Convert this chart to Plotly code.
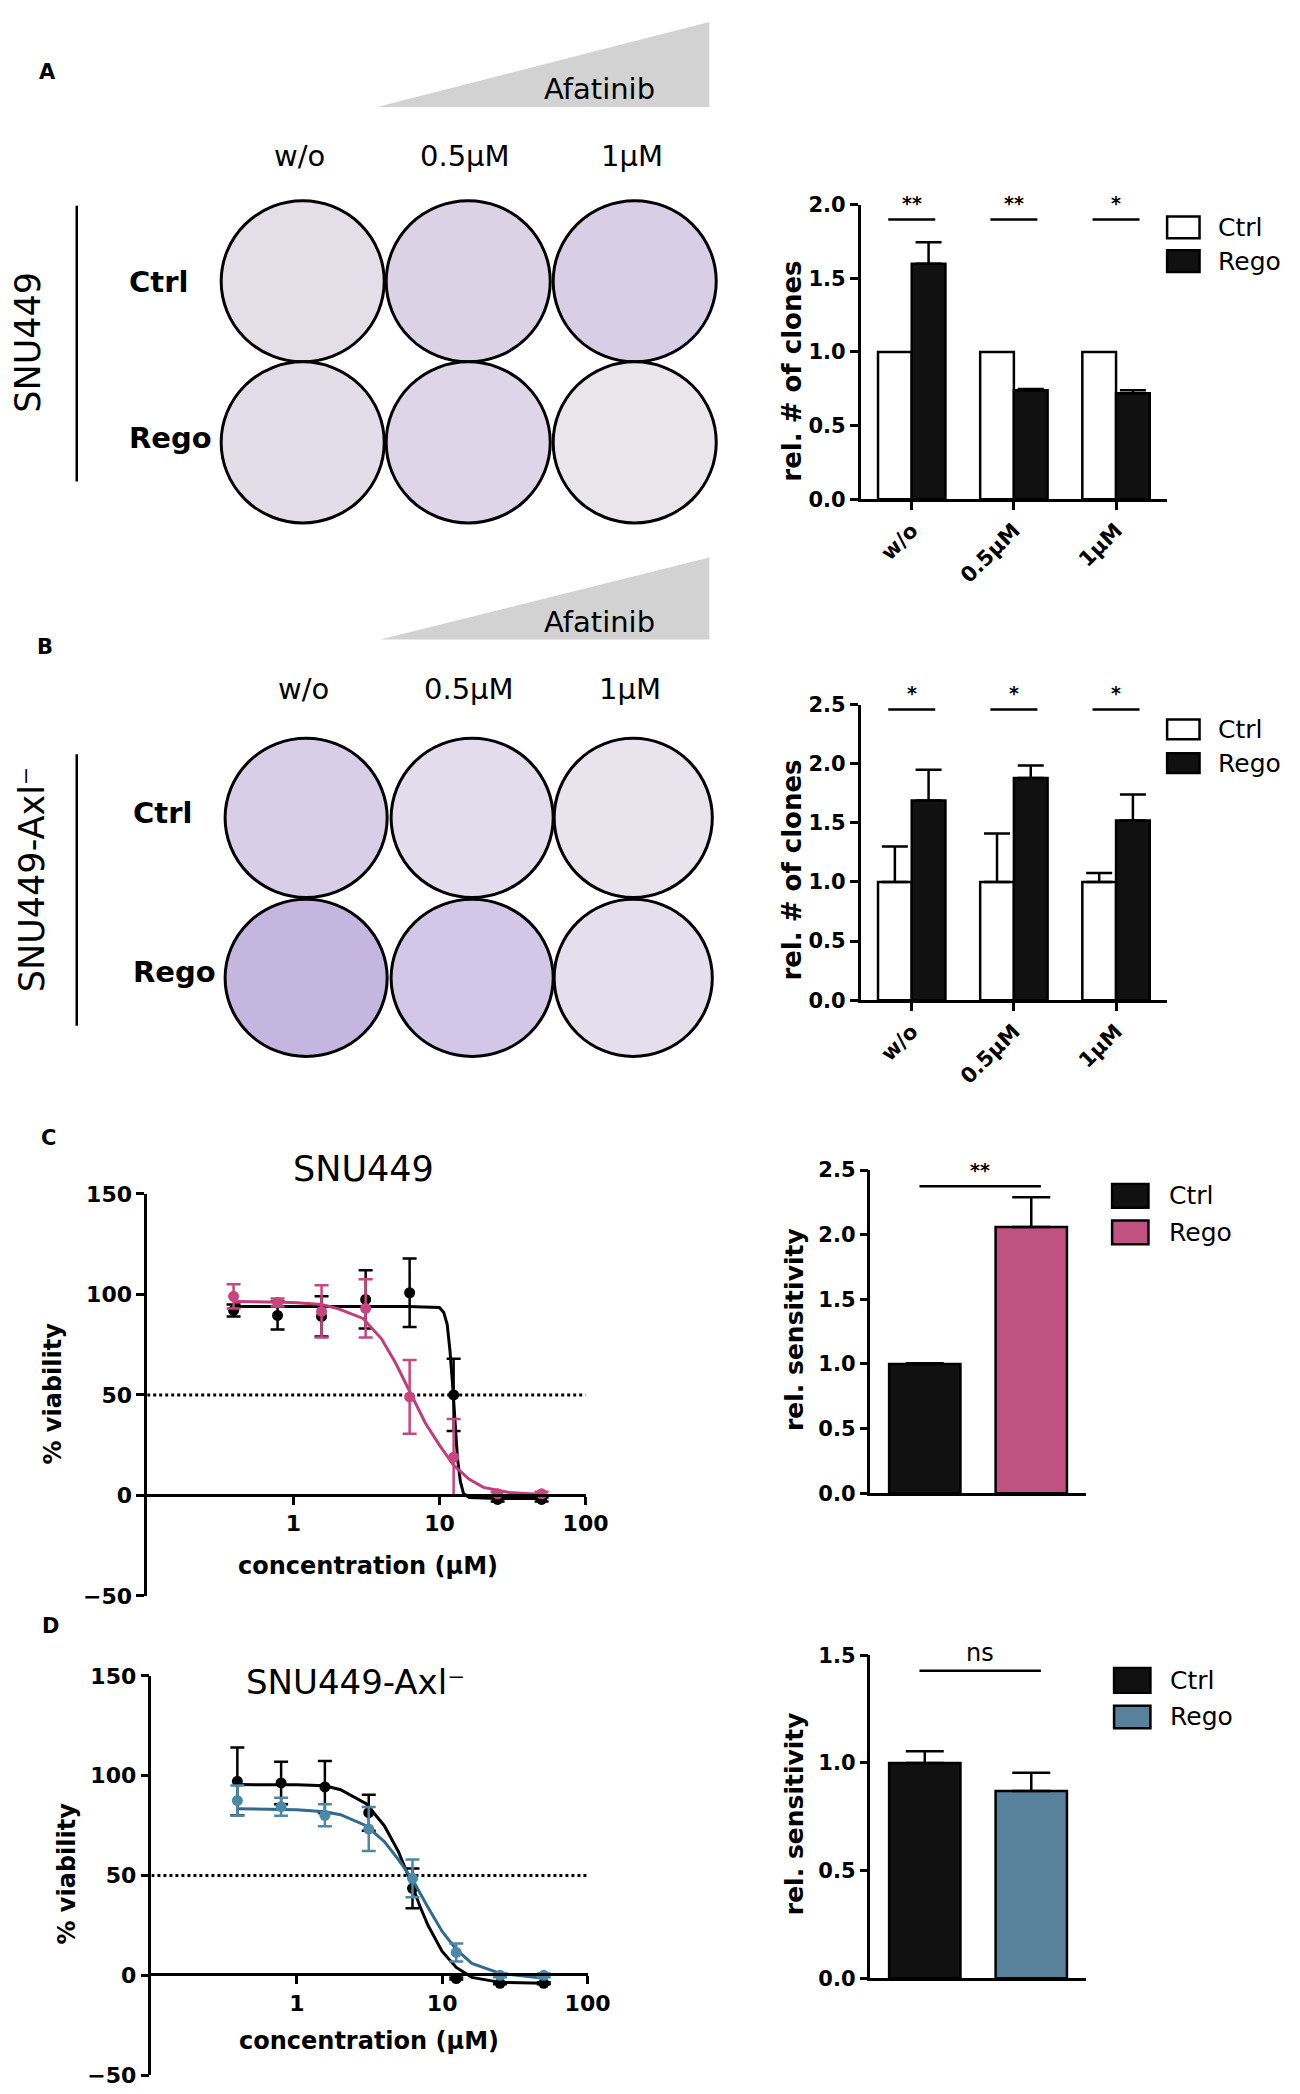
import plotly.graph_objects as go

W, H = 1300, 2094
FONT = "DejaVu Sans"


def px(x):
    return x / W


def py(y):
    return 1 - y / H


# ---- colony formation (A, B) ----
doses = ["w/o", "0.5μM", "1μM"]

clones_a_ctrl = [1.0, 1.0, 1.0]
clones_a_rego = [1.60, 0.74, 0.72]
clones_a_rego_err = [0.145, 0.008, 0.02]
sig_a = ["**", "**", "*"]
sig_a_level = 1.9

clones_b_ctrl = [1.0, 1.0, 1.0]
clones_b_ctrl_err = [0.30, 0.41, 0.076]
clones_b_rego = [1.69, 1.88, 1.52]
clones_b_rego_err = [0.26, 0.105, 0.22]
sig_b = ["*", "*", "*"]
sig_b_level = 2.46

# ---- dose response (C, D) ----
conc = [0.39, 0.78, 1.56, 3.125, 6.25, 12.5, 25, 50]

c_ctrl = [92, 89.5, 89, 97.5, 100.8, 50, -2, -2]
c_ctrl_err = [3, 7, 10, 14.5, 17, 18, 1, 1]
c_rego = [99, 96, 91.5, 93, 49, 19, 0.8, 0.8]
c_rego_err = [6, 2, 13, 14.5, 18.3, 19, 1, 1]

c_ctrl_fit_x = [0.39, 1, 3, 6, 10, 10.7, 11.3, 11.8, 12.3, 12.8, 13.3, 13.9, 14.6, 16, 25, 50]
c_ctrl_fit_y = [94, 94, 94, 94, 93.5, 91, 85, 72, 55, 35, 18, 7, 1, -1, -1.5, -1.5]
c_rego_fit_x = [0.39, 1, 1.56, 2, 3, 4, 5, 6.25, 8, 10, 12.5, 16, 20, 30, 50]
c_rego_fit_y = [96.5, 96, 95, 93, 88, 78, 66, 52, 36, 25, 15, 8, 4, 1.5, 0.5]

d_ctrl = [97.2, 96.4, 94.4, 81.5, 43.6, -1.6, -4, -4]
d_ctrl_err = [17, 10.6, 13, 9, 10, 0.5, 0.5, 0.5]
d_rego = [87.6, 84.5, 80.2, 73.3, 48.6, 11.5, 0, 0]
d_rego_err = [7.5, 4.5, 5.5, 11, 9.5, 4.5, 1, 1]

d_ctrl_fit_x = [0.39, 1, 1.56, 2, 3, 4, 5, 6, 7, 8, 10, 12.5, 16, 25, 50]
d_ctrl_fit_y = [95.6, 95.5, 95, 93, 86, 75, 62, 48, 35, 25, 12, 4, -1, -3.5, -4]
d_rego_fit_x = [0.39, 1, 1.56, 2, 3, 4, 5, 6.25, 8, 10, 12.5, 16, 25, 50]
d_rego_fit_y = [83.5, 83, 82, 80.5, 75, 67, 58, 48, 34, 22, 13, 6, 1, -1.5]

half_max = 50
conc_span = [0.1, 100]

# ---- relative sensitivity (C, D) ----
groups = ["Ctrl", "Rego"]
sens_c = [1.0, 2.06]
sens_c_err = [0.005, 0.23]
sig_c = "**"
sig_c_level = 2.375
sens_d = [1.0, 0.87]
sens_d_err = [0.054, 0.084]
sig_d = "ns"
sig_d_level = 1.428

PINK = "#c05282"
PINK_LINE = "#c23c7c"
BLUE = "#58819c"
BLUE_LINE = "#2f6b8e"
BLUE_MARK = "#4c88a8"

fig = go.Figure()


def clone_panel(ax, ay, ctrl, ctrl_err, rego, rego_err, level):
    ctrl_e = dict(visible=False)
    if ctrl_err is not None:
        ctrl_e = dict(type="data", array=ctrl_err, arrayminus=[0] * len(ctrl_err),
                      symmetric=False, color="black", thickness=2.5, width=13)
    fig.add_trace(go.Bar(x=[0, 1, 2], y=ctrl, width=0.33, offset=-0.33,
                         marker=dict(color="white", line=dict(color="black", width=2.5)),
                         error_y=ctrl_e, xaxis=ax, yaxis=ay))
    fig.add_trace(go.Bar(x=[0, 1, 2], y=rego, width=0.33, offset=0,
                         marker=dict(color="#111111", line=dict(color="black", width=2.5)),
                         error_y=dict(type="data", array=rego_err, arrayminus=[0] * len(rego_err),
                                      symmetric=False, color="black", thickness=2.5, width=13),
                         xaxis=ax, yaxis=ay))
    sx, sy = [], []
    for i in range(len(doses)):
        sx += [i - 0.23, i + 0.23, None]
        sy += [level, level, None]
    fig.add_trace(go.Scatter(x=sx, y=sy, mode="lines", line=dict(color="black", width=2.5),
                             xaxis=ax, yaxis=ay, hoverinfo="skip"))


clone_panel("x", "y", clones_a_ctrl, None, clones_a_rego, clones_a_rego_err, sig_a_level)
clone_panel("x2", "y2", clones_b_ctrl, clones_b_ctrl_err, clones_b_rego, clones_b_rego_err, sig_b_level)


def dose_panel(ax, ay, ctrl, ctrl_err, rego, rego_err, cfx, cfy, rfx, rfy,
               rego_line, rego_mark):
    fig.add_trace(go.Scatter(x=conc_span, y=[half_max, half_max], mode="lines",
                             line=dict(color="black", width=3, dash="dot"),
                             xaxis=ax, yaxis=ay))
    fig.add_trace(go.Scatter(x=cfx, y=cfy, mode="lines", line=dict(color="black", width=3),
                             xaxis=ax, yaxis=ay))
    fig.add_trace(go.Scatter(x=conc, y=ctrl, mode="markers",
                             marker=dict(color="black", size=11),
                             error_y=dict(type="data", array=ctrl_err, color="black",
                                          thickness=2.5, width=7),
                             cliponaxis=False, xaxis=ax, yaxis=ay))
    fig.add_trace(go.Scatter(x=rfx, y=rfy, mode="lines", line=dict(color=rego_line, width=3),
                             xaxis=ax, yaxis=ay))
    fig.add_trace(go.Scatter(x=conc, y=rego, mode="markers",
                             marker=dict(color=rego_mark, size=11),
                             error_y=dict(type="data", array=rego_err, color=rego_mark,
                                          thickness=2.5, width=7),
                             cliponaxis=False, xaxis=ax, yaxis=ay))


dose_panel("x3", "y3", c_ctrl, c_ctrl_err, c_rego, c_rego_err,
           c_ctrl_fit_x, c_ctrl_fit_y, c_rego_fit_x, c_rego_fit_y, PINK_LINE, "#c8457f")
dose_panel("x5", "y5", d_ctrl, d_ctrl_err, d_rego, d_rego_err,
           d_ctrl_fit_x, d_ctrl_fit_y, d_rego_fit_x, d_rego_fit_y, BLUE_LINE, BLUE_MARK)


def sens_panel(ax, ay, vals, errs, rego_color, level):
    for i, (v, e, c) in enumerate(zip(vals, errs, ["#111111", rego_color])):
        fig.add_trace(go.Bar(x=[i], y=[v], width=0.67, offset=-0.335,
                             marker=dict(color=c, line=dict(color="black", width=2.5)),
                             error_y=dict(type="data", array=[e], arrayminus=[0],
                                          symmetric=False, color="black", thickness=2.5, width=19),
                             xaxis=ax, yaxis=ay))
    fig.add_trace(go.Scatter(x=[-0.05, 1.09], y=[level, level], mode="lines",
                             line=dict(color="black", width=2.5), xaxis=ax, yaxis=ay))


sens_panel("x4", "y4", sens_c, sens_c_err, PINK, sig_c_level)
sens_panel("x6", "y6", sens_d, sens_d_err, BLUE, sig_d_level)

# ---- axes ----
tickfont = dict(family=FONT, size=21, color="black", weight="bold")
common = dict(showline=True, linecolor="black", linewidth=2.5, ticks="outside",
              ticklen=8, tickwidth=2.5, tickcolor="black", showgrid=False,
              zeroline=False, tickfont=tickfont)

layout_axes = {}
for n, ytop, ybot, ymax in [("", 187, 485, 2.0), ("2", 693, 992, 2.5)]:
    layout_axes["xaxis" + n] = dict(common, domain=[px(868), px(1180)], range=[-0.5, 2.5],
                                    tickvals=[0, 1, 2], ticktext=doses, tickangle=-45,
                                    anchor="y" + n)
    layout_axes["yaxis" + n] = dict(common, domain=[py(ybot), py(ytop)], range=[0, ymax],
                                    dtick=0.5, tickformat=".1f", anchor="x" + n)

for n, xl, xr, ytop, ybot, yzero in [("3", 141.7, 588, 1188, 1595, 1493),
                                     ("5", 146, 590, 1676, 2080, 1978)]:
    layout_axes["xaxis" + n] = dict(common, type="log", domain=[px(xl), px(xr)], range=[-1, 2],
                                    tickvals=[1, 10, 100], ticktext=["1", "10", "100"],
                                    anchor="free", position=py(yzero),
                                    tickfont=dict(tickfont, size=22))
    layout_axes["yaxis" + n] = dict(common, domain=[py(ybot), py(ytop)], range=[-50, 150],
                                    tickvals=[-50, 0, 50, 100, 150], anchor="x" + n,
                                    tickfont=dict(tickfont, size=22))

for n, ytop, ybot, ymax in [("4", 1164, 1491, 2.5), ("6", 1655, 1982, 1.5)]:
    layout_axes["xaxis" + n] = dict(common, domain=[px(878), px(1097)], range=[-0.51, 1.51],
                                    ticks="", tickvals=[], showticklabels=False,
                                    anchor="y" + n)
    layout_axes["yaxis" + n] = dict(common, domain=[py(ybot), py(ytop)], range=[0, ymax],
                                    dtick=0.5, tickformat=".1f", anchor="x" + n)

# ---- annotations and shapes ----
ann = []
shapes = []


def label(x, y, text, size, bold=False, angle=0, xanchor="center"):
    ann.append(dict(x=px(x), y=py(y), xref="paper", yref="paper",
                    text="<b>%s</b>" % text if bold else text, showarrow=False,
                    font=dict(family=FONT, size=size, color="black"),
                    textangle=angle, xanchor=xanchor, yanchor="middle"))


def sig_label(ax, ay, x, y, text, size, shift):
    ann.append(dict(x=x, y=y, xref=ax, yref=ay,
                    text="<b>%s</b>" % text if text != "ns" else text,
                    showarrow=False, font=dict(family=FONT, size=size, color="black"),
                    xanchor="center", yanchor="bottom", yshift=shift))


for i, s in enumerate(sig_a):
    sig_label("x", "y", i, sig_a_level, s, 19, 3)
for i, s in enumerate(sig_b):
    sig_label("x2", "y2", i, sig_b_level, s, 19, 3)
sig_label("x4", "y4", 0.52, sig_c_level, sig_c, 19, 3)
sig_label("x6", "y6", 0.52, sig_d_level, sig_d, 24, 2)

# panel letters
label(40, 53, "A", 21, bold=True)
label(38, 635, "B", 21, bold=True)
label(41, 1132, "C", 21, bold=True)
label(43, 1625, "D", 21, bold=True)

# plate panels
dish_cols = [(217, 383), (385, 552), (555, 721)]
dish_cols_b = [(221, 386), (390, 555), (556, 717)]
tints_a = [["#e4dee9", "#dbd2e6", "#d8cee6"], ["#e3dde9", "#ded6e8", "#e9e6eb"]]
tints_b = [["#d8cee8", "#e2dcec", "#e7e4ee"], ["#c4b6df", "#d2c7e6", "#e3dfec"]]

for rows, cols, tints, tri, col_y, row_lab_x, row_lab_y, vline, cell, cell_x, cell_y in [
    ([(183, 346), (346, 509)], dish_cols, tints_a, (376, 714, 88, 2), 138, 121,
     (265, 423), (188, 467), "SNU449", 20, 326),
    ([(727, 888), (890, 1049)], dish_cols_b, tints_b, (379, 714, 627, 544), 677, 125,
     (803, 964), (743, 1018), "SNU449-Axl⁻", 24, 870),
]:
    for r, (y0, y1) in enumerate(rows):
        for c, (x0, x1) in enumerate(cols):
            shapes.append(dict(type="circle", xref="paper", yref="paper",
                               x0=px(x0), x1=px(x1), y0=py(y1), y1=py(y0),
                               fillcolor=tints[r][c], line=dict(color="black", width=3)))
    tl, tr, tb, tt = tri
    shapes.append(dict(type="path", xref="paper", yref="paper",
                       path="M %f,%f L %f,%f L %f,%f Z" % (px(tl), py(tb), px(tr), py(tb),
                                                          px(tr), py(tt)),
                       fillcolor="#d2d2d2", line=dict(width=0)))
    label(602, tb - 18, "Afatinib", 29)
    for c, (x0, x1) in enumerate(cols):
        label((x0 + x1) / 2 - 3, col_y, doses[c], 29)
    label(row_lab_x, row_lab_y[0], "Ctrl", 29, bold=True, xanchor="left")
    label(row_lab_x, row_lab_y[1], "Rego", 29, bold=True, xanchor="left")
    shapes.append(dict(type="line", xref="paper", yref="paper", x0=px(70), x1=px(70),
                       y0=py(vline[0]), y1=py(vline[1]), line=dict(color="black", width=2.5)))
    label(cell_x, cell_y, cell, 35, angle=-90)

# axis titles
label(798, 355, "rel. # of clones", 26, bold=True, angle=-90)
label(798, 860, "rel. # of clones", 26, bold=True, angle=-90)
label(800, 1325, "rel. sensitivity", 25, bold=True, angle=-90)
label(800, 1815, "rel. sensitivity", 25, bold=True, angle=-90)
label(46, 1390, "% viability", 24, bold=True, angle=-90)
label(60, 1876, "% viability", 24, bold=True, angle=-90)
label(366, 1565, "concentration (μM)", 24, bold=True)
label(367, 2045, "concentration (μM)", 24, bold=True)
label(362, 1163, "SNU449", 35)
label(354, 1682, "SNU449-Axl⁻", 34)

# legends
for bx0, bx1, rows, tx, fills in [
    (1180, 1213, [(199, 221), (233, 255)], 1230, ["white", "#111111"]),
    (1180, 1213, [(708, 728), (742, 762)], 1230, ["white", "#111111"]),
    (1124, 1161, [(1178, 1202), (1215, 1239)], 1180, ["#111111", PINK]),
    (1126, 1163, [(1668, 1693), (1706, 1729)], 1181, ["#111111", BLUE]),
]:
    for (y0, y1), g, f in zip(rows, groups, fills):
        shapes.append(dict(type="rect", xref="paper", yref="paper", x0=px(bx0), x1=px(bx1),
                           y0=py(y1), y1=py(y0), fillcolor=f, line=dict(color="black", width=2.5)))
        label(tx, (y0 + y1) / 2, g, 25, xanchor="left")

fig.update_layout(
    width=W, height=H, margin=dict(l=0, r=0, t=0, b=0),
    paper_bgcolor="white", plot_bgcolor="white", showlegend=False,
    barmode="group", annotations=ann, shapes=shapes,
    font=dict(family=FONT, color="black"),
    **layout_axes,
)

fig.write_html("out.html")
